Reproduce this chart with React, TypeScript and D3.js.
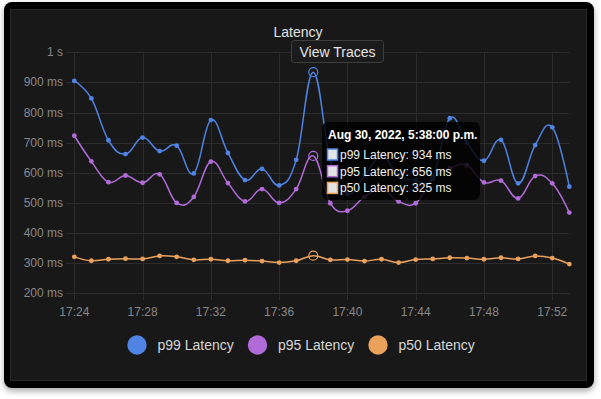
import React, { useEffect, useRef } from 'react'
import * as d3 from 'd3'

const times = ['17:24', '17:25', '17:26', '17:27', '17:28', '17:29', '17:30', '17:31', '17:32', '17:33',
    '17:34', '17:35', '17:36', '17:37', '17:38', '17:39', '17:40', '17:41', '17:42', '17:43',
    '17:44', '17:45', '17:46', '17:47', '17:48', '17:49', '17:50', '17:51', '17:52', '17:53']

const p99 = [905, 847, 708, 662, 717, 672, 690, 598, 775, 666, 576, 613, 558, 643, 934,
    640, 530, 590, 655, 590, 575, 585, 781, 700, 640, 709, 565, 692, 751, 554]
const p95 = [723, 638, 569, 591, 567, 595, 500, 520, 637, 566, 505, 546, 500, 546, 656,
    499, 474, 520, 545, 505, 499, 580, 615, 625, 568, 574, 515, 589, 565, 468]
const p50 = [321, 308, 313, 315, 314, 324, 321, 311, 313, 308, 310, 307, 302, 308, 325,
    311, 312, 307, 313, 302, 312, 314, 318, 317, 313, 318, 314, 324, 317, 297]

const yTicks = [200, 300, 400, 500, 600, 700, 800, 900, 1000]
const xTicks = ['17:24', '17:28', '17:32', '17:36', '17:40', '17:44', '17:48', '17:52']

const series = [
    { name: 'p99 Latency', values: p99, color: '#4f84e4' },
    { name: 'p95 Latency', values: p95, color: '#b06bd8' },
    { name: 'p50 Latency', values: p50, color: '#eaa15c' },
]

const hoverIndex = 14
const tooltipTitle = 'Aug 30, 2022, 5:38:00 p.m.'

const font = '"Liberation Sans", Arial, Helvetica, sans-serif'

export default function App() {
    const svgRef = useRef<SVGSVGElement>(null)

    const width = 601
    const height = 399

    useEffect(() => {
        const svg = d3.select(svgRef.current)
        svg.selectAll('*').remove()

        const parse = d3.timeParse('%H:%M')
        const dates = times.map(t => parse(t) as Date)

        const x = d3.scaleTime()
            .domain([dates[0], dates[dates.length - 1]])
            .range([74.3, 569.3])
        const y = d3.scaleLinear()
            .domain([200, 1000])
            .range([293.3, 52.3])

        const defs = svg.append('defs')
        const f = defs.append('filter').attr('id', 'shadow')
            .attr('x', '-5%').attr('y', '-5%').attr('width', '110%').attr('height', '115%')
        f.append('feDropShadow')
            .attr('dx', 0).attr('dy', 3).attr('stdDeviation', 3)
            .attr('flood-color', '#000').attr('flood-opacity', 0.35)

        // frame
        svg.append('rect')
            .attr('x', 4).attr('y', 2).attr('width', 590).attr('height', 386)
            .attr('rx', 8).attr('fill', '#000')
            .attr('filter', 'url(#shadow)')
        svg.append('rect')
            .attr('x', 10.5).attr('y', 9.5).attr('width', 576).attr('height', 371)
            .attr('fill', '#181818').attr('stroke', '#2a2a2a')

        svg.append('text')
            .attr('x', 298).attr('y', 37)
            .attr('text-anchor', 'middle')
            .attr('font-family', font).attr('font-size', 14)
            .attr('fill', '#e2e2e2')
            .text('Latency')

        // grid
        const grid = svg.append('g').attr('stroke', '#2c2c2c').attr('stroke-width', 1)
        grid.selectAll('line.h')
            .data(yTicks)
            .enter()
            .append('line')
            .attr('x1', 66).attr('x2', 569.3)
            .attr('y1', d => Math.round(y(d)) + 0.5)
            .attr('y2', d => Math.round(y(d)) + 0.5)
        grid.selectAll('line.v')
            .data(xTicks)
            .enter()
            .append('line')
            .attr('x1', d => Math.round(x(parse(d) as Date)) + 0.5)
            .attr('x2', d => Math.round(x(parse(d) as Date)) + 0.5)
            .attr('y1', 52.3).attr('y2', 300)

        // axis labels
        svg.append('g')
            .selectAll('text')
            .data(yTicks)
            .enter()
            .append('text')
            .attr('x', 63).attr('y', d => y(d) + 4)
            .attr('text-anchor', 'end')
            .attr('font-family', font).attr('font-size', 12)
            .attr('fill', '#888')
            .text(d => d === 1000 ? '1 s' : `${d} ms`)

        svg.append('g')
            .selectAll('text')
            .data(xTicks)
            .enter()
            .append('text')
            .attr('x', d => x(parse(d) as Date)).attr('y', 315.5)
            .attr('text-anchor', 'middle')
            .attr('font-family', font).attr('font-size', 12)
            .attr('fill', '#888')
            .text(d => d)

        // lines
        const line = d3.line<number>()
            .x((d, i) => x(dates[i]))
            .y(d => y(d))
            .curve(d3.curveCardinal.tension(-0.2))

        const sg = svg.append('g')
            .selectAll('g')
            .data([...series].reverse())
            .enter()
            .append('g')

        sg.append('path')
            .attr('d', d => line(d.values))
            .attr('fill', 'none')
            .attr('stroke', d => d.color)
            .attr('stroke-width', 1.5)

        sg.selectAll('circle')
            .data(d => d.values.map((v, i) => ({ v, i, color: d.color })))
            .enter()
            .append('circle')
            .attr('cx', d => x(dates[d.i]))
            .attr('cy', d => y(d.v))
            .attr('r', d => d.i === hoverIndex ? 4.5 : 2.4)
            .attr('fill', d => d.i === hoverIndex ? 'none' : d.color)
            .attr('stroke', d => d.color)
            .attr('stroke-width', d => d.i === hoverIndex ? 1.2 : 0)

        // view traces button sits above the plot
        svg.append('rect')
            .attr('x', 291.5).attr('y', 40.5).attr('width', 92).attr('height', 22)
            .attr('rx', 3).attr('fill', '#1b1b1b').attr('stroke', '#3e3e3e')
        svg.append('text')
            .attr('x', 337.5).attr('y', 56.5)
            .attr('text-anchor', 'middle')
            .attr('font-family', font).attr('font-size', 14)
            .attr('fill', '#e6e6e6')
            .text('View Traces')

        // tooltip
        const tip = svg.append('g')
        tip.append('rect')
            .attr('x', 322).attr('y', 122).attr('width', 158).attr('height', 78)
            .attr('rx', 6).attr('fill', 'rgba(0,0,0,0.82)')
        tip.append('text')
            .attr('x', 328).attr('y', 139)
            .attr('font-family', font).attr('font-size', 12).attr('font-weight', 'bold')
            .attr('fill', '#fff')
            .text(tooltipTitle)
        const rows = tip.selectAll('g.row')
            .data(series)
            .enter()
            .append('g')
            .attr('transform', (d, i) => `translate(0, ${154.5 + i * 16.7})`)
        rows.append('rect')
            .attr('x', 327.5).attr('y', -5.5).attr('width', 10).attr('height', 11)
            .attr('fill', '#e4e4e4')
            .attr('stroke', d => d.color).attr('stroke-width', 1.5)
        rows.append('text')
            .attr('x', 340).attr('y', 4.5)
            .attr('font-family', font).attr('font-size', 12)
            .attr('fill', '#f0f0f0')
            .text(d => `${d.name}: ${d.values[hoverIndex]} ms`)

        // legend
        const legendX = [137, 257.5, 378]
        const lg = svg.append('g')
            .selectAll('g')
            .data(series)
            .enter()
            .append('g')
            .attr('transform', (d, i) => `translate(${legendX[i]}, 345)`)
        lg.append('circle')
            .attr('r', 9.7)
            .attr('fill', d => d.color)
        lg.append('text')
            .attr('x', 20.5).attr('y', 5)
            .attr('font-family', font).attr('font-size', 14)
            .attr('fill', '#d6d6d6')
            .text(d => d.name)
    }, [])

    return (
        <div style={{ position: 'absolute', left: 0, top: 0, background: '#fff' }}>
            <svg ref={svgRef} width={width} height={height}></svg>
        </div>
    )
}
